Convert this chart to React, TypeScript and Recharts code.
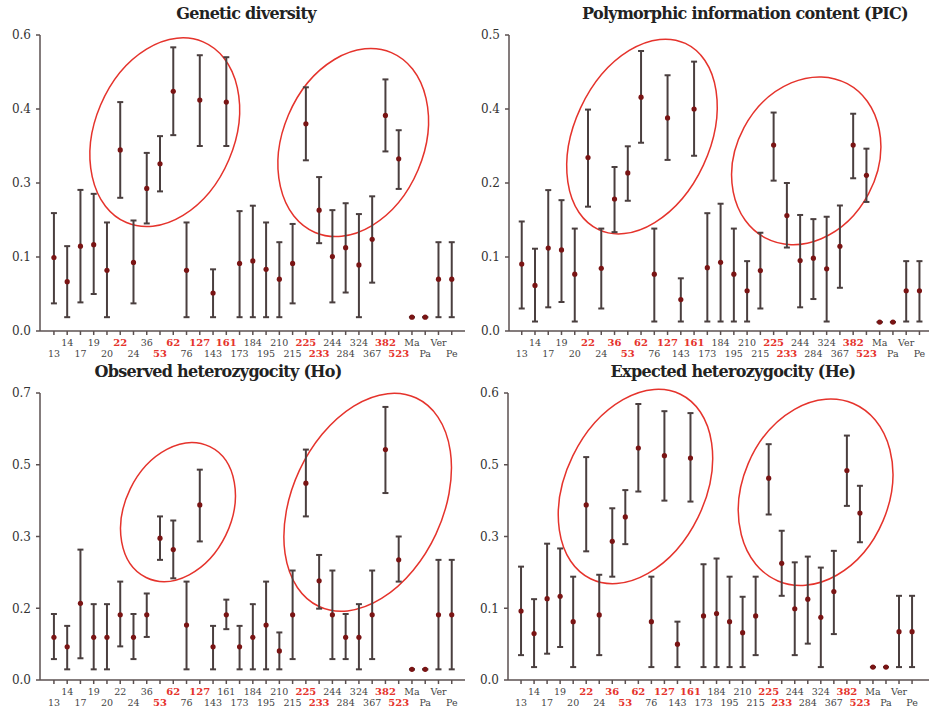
import React from 'react';
import { ScatterChart, Scatter, XAxis, YAxis, ErrorBar, ReferenceArea } from 'recharts';

const categories = [
  '13', '14', '17', '19', '20', '22', '24', '36', '53', '62', '76', '127', '143', '161', '173', '184',
  '195', '210', '215', '225', '233', '244', '284', '324', '367', '382', '523', 'Ma', 'Pa', 'Ver', 'Pe',
];

// Genetic diversity
const gdMean = [0.149, 0.1, 0.172, 0.175, 0.123, 0.367, 0.139, 0.289, 0.339, 0.486, 0.123, 0.468, 0.077, 0.464, 0.137, 0.142, 0.125, 0.105, 0.137, 0.42, 0.245, 0.151, 0.169, 0.134, 0.186, 0.437, 0.349, 0.028, 0.028, 0.105, 0.105];
const gdLow = [0.056, 0.028, 0.058, 0.075, 0.028, 0.27, 0.056, 0.218, 0.283, 0.397, 0.028, 0.375, 0.028, 0.375, 0.028, 0.028, 0.028, 0.028, 0.056, 0.346, 0.178, 0.058, 0.078, 0.028, 0.098, 0.364, 0.288, 0.028, 0.028, 0.028, 0.028];
const gdHigh = [0.239, 0.172, 0.286, 0.278, 0.22, 0.464, 0.224, 0.361, 0.395, 0.575, 0.22, 0.559, 0.125, 0.555, 0.243, 0.254, 0.22, 0.18, 0.217, 0.494, 0.312, 0.245, 0.259, 0.237, 0.273, 0.51, 0.407, 0.028, 0.028, 0.18, 0.18];

// Polymorphic information content
const picMean = [0.113, 0.077, 0.14, 0.137, 0.096, 0.293, 0.106, 0.223, 0.267, 0.395, 0.096, 0.36, 0.053, 0.375, 0.107, 0.116, 0.096, 0.068, 0.102, 0.314, 0.195, 0.119, 0.123, 0.105, 0.143, 0.314, 0.263, 0.015, 0.015, 0.068, 0.068];
const picLow = [0.038, 0.016, 0.04, 0.049, 0.016, 0.21, 0.038, 0.167, 0.22, 0.318, 0.016, 0.289, 0.016, 0.296, 0.016, 0.016, 0.016, 0.016, 0.038, 0.254, 0.141, 0.04, 0.054, 0.016, 0.073, 0.258, 0.218, 0.015, 0.015, 0.016, 0.016];
const picHigh = [0.185, 0.139, 0.238, 0.221, 0.173, 0.374, 0.173, 0.277, 0.312, 0.473, 0.173, 0.432, 0.089, 0.455, 0.199, 0.215, 0.173, 0.118, 0.166, 0.369, 0.25, 0.196, 0.189, 0.193, 0.212, 0.367, 0.308, 0.015, 0.015, 0.118, 0.118];

// Observed heterozygosity
const hoMean = [0.104, 0.081, 0.187, 0.104, 0.104, 0.159, 0.104, 0.159, 0.346, 0.318, 0.134, 0.427, 0.081, 0.159, 0.081, 0.104, 0.134, 0.071, 0.159, 0.48, 0.242, 0.159, 0.104, 0.104, 0.159, 0.562, 0.293, 0.026, 0.026, 0.159, 0.159];
const hoLow = [0.051, 0.026, 0.053, 0.026, 0.026, 0.082, 0.051, 0.105, 0.293, 0.248, 0.026, 0.338, 0.026, 0.124, 0.026, 0.026, 0.026, 0.026, 0.051, 0.399, 0.174, 0.051, 0.051, 0.026, 0.051, 0.456, 0.24, 0.026, 0.026, 0.026, 0.026];
const hoHigh = [0.161, 0.132, 0.318, 0.185, 0.185, 0.24, 0.161, 0.211, 0.399, 0.389, 0.24, 0.513, 0.132, 0.196, 0.132, 0.185, 0.24, 0.116, 0.267, 0.562, 0.305, 0.267, 0.161, 0.185, 0.267, 0.666, 0.35, 0.026, 0.026, 0.293, 0.293];

// Expected heterozygosity
const heMean = [0.144, 0.097, 0.17, 0.175, 0.122, 0.366, 0.136, 0.29, 0.341, 0.485, 0.122, 0.469, 0.075, 0.464, 0.134, 0.139, 0.122, 0.099, 0.134, 0.422, 0.244, 0.149, 0.169, 0.131, 0.185, 0.438, 0.349, 0.027, 0.027, 0.101, 0.101];
const heLow = [0.052, 0.027, 0.055, 0.069, 0.027, 0.269, 0.052, 0.216, 0.284, 0.394, 0.027, 0.375, 0.027, 0.373, 0.027, 0.027, 0.027, 0.027, 0.052, 0.346, 0.176, 0.052, 0.076, 0.027, 0.096, 0.364, 0.288, 0.027, 0.027, 0.027, 0.027];
const heHigh = [0.237, 0.169, 0.285, 0.275, 0.216, 0.466, 0.22, 0.359, 0.397, 0.577, 0.216, 0.562, 0.122, 0.558, 0.242, 0.254, 0.216, 0.174, 0.216, 0.493, 0.312, 0.246, 0.258, 0.235, 0.27, 0.511, 0.406, 0.027, 0.027, 0.176, 0.176];

// y ticks and the labels printed next to them
const gdTicks = [0, 0.15, 0.3, 0.45, 0.6];
const gdTickLabels = ['0.0', '0.1', '0.3', '0.4', '0.6'];
const picTicks = [0, 0.125, 0.25, 0.375, 0.5];
const picTickLabels = ['0.0', '0.1', '0.2', '0.4', '0.5'];
const hoTicks = [0, 0.175, 0.35, 0.525, 0.7];
const hoTickLabels = ['0.0', '0.2', '0.3', '0.5', '0.7'];
const heTicks = [0, 0.15, 0.3, 0.45, 0.6];
const heTickLabels = ['0.0', '0.1', '0.3', '0.5', '0.6'];

// highlighted (red) category labels
const gdRed = ['22', '53', '62', '127', '161', '225', '233', '382', '523'];
const picRed = ['22', '36', '53', '62', '127', '161', '225', '233', '382', '523'];
const hoRed = ['53', '62', '127', '225', '233', '382', '523'];
const heRed = ['22', '36', '53', '62', '127', '161', '225', '233', '382', '523'];

// ellipse annotations: box in data units, then tilted (degrees clockwise)
const gdRings = [
  { x1: 3.1, x2: 13.62, y1: 0.204, y2: 0.602, tilt: 23 },
  { x1: 17.26, x2: 27.88, y1: 0.184, y2: 0.58, tilt: 23 },
];
const picRings = [
  { x1: 3.96, x2: 14.18, y1: 0.155, y2: 0.502, tilt: 25 },
  { x1: 16.14, x2: 26.78, y1: 0.14, y2: 0.435, tilt: 28 },
];
const hoRings = [
  { x1: 5.35, x2: 13.36, y1: 0.232, y2: 0.587, tilt: 26 },
  { x1: 17.98, x2: 29.34, y1: 0.153, y2: 0.714, tilt: 25 },
];
const heRings = [
  { x1: 3.43, x2: 14.13, y1: 0.19, y2: 0.619, tilt: 26 },
  { x1: 16.98, x2: 28.22, y1: 0.191, y2: 0.594, tilt: 23 },
];

const AXIS = '#5b5050';
const BAR = '#4a3f3f';
const DOT = '#7a1414';
const RED = '#e5332c';

const CatTick = ({ x, y, payload, red }: any) => {
  const i = payload.value;
  const label = categories[i];
  if (label === undefined) return null;
  const isRed = red.includes(label);
  return (
    <text
      x={x}
      y={y + (i % 2 === 0 ? 22 : 11)}
      textAnchor="middle"
      fontSize={isRed ? 10 : 9.5}
      fontFamily="DejaVu Serif"
      fontWeight={isRed ? 'bold' : 'normal'}
      fill={isRed ? RED : '#444'}
    >
      {label}
    </text>
  );
};

const Ring = (props: any) => {
  const { x, y, width, height, tilt } = props;
  const cx = x + width / 2;
  const cy = y + height / 2;
  return (
    <ellipse
      cx={cx}
      cy={cy}
      rx={width / 2}
      ry={height / 2}
      transform={`rotate(${tilt} ${cx} ${cy})`}
      fill="none"
      stroke={RED}
      strokeWidth={1.5}
    />
  );
};

const Panel = ({ left, top, width, height, title, titleX, mean, low, high, ticks, tickLabels, red, rings, xDomain, yWidth, plotTop, xHeight }: any) => {
  const data = categories.map((c, i) => ({
    idx: i,
    mean: mean[i],
    err: [mean[i] - low[i], high[i] - mean[i]],
  }));
  const yMax = ticks[ticks.length - 1];
  return (
    <div style={{ position: 'absolute', left, top, width, height }}>
      <div
        style={{
          position: 'absolute',
          left: titleX - 250,
          width: 500,
          top: plotTop - 31,
          textAlign: 'center',
          fontFamily: 'DejaVu Serif',
          fontWeight: 'bold',
          fontSize: 16,
          letterSpacing: -0.7,
          color: '#222',
        }}
      >
        {title}
      </div>
      <ScatterChart width={width} height={height} margin={{ top: plotTop, right: 0, bottom: 0, left: 0 }}>
        <XAxis
          type="number"
          dataKey="idx"
          domain={xDomain}
          ticks={categories.map((c, i) => i)}
          interval={0}
          height={xHeight}
          stroke={AXIS}
          strokeWidth={1.5}
          tickSize={4}
          tickMargin={0}
          tick={<CatTick red={red} />}
          allowDataOverflow
        />
        <YAxis
          type="number"
          dataKey="mean"
          domain={[0, yMax]}
          ticks={ticks}
          interval={0}
          width={yWidth}
          stroke={AXIS}
          strokeWidth={1.5}
          tickSize={4}
          tickMargin={5}
          tickFormatter={(v: number, i: number) => tickLabels[i]}
          tick={{ fill: '#333', fontSize: 12, fontFamily: 'DejaVu Serif' }}
          allowDataOverflow
        />
        {rings.map((r: any, k: number) => (
          <ReferenceArea
            key={k}
            x1={r.x1}
            x2={r.x2}
            y1={r.y1}
            y2={r.y2}
            ifOverflow="visible"
            shape={(p: any) => <Ring {...p} tilt={r.tilt} />}
          />
        ))}
        <Scatter
          data={data}
          isAnimationActive={false}
          shape={(p: any) => <circle cx={p.cx} cy={p.cy} r={2.6} fill={DOT} />}
        >
          <ErrorBar dataKey="err" direction="y" width={3} stroke={BAR} strokeWidth={2} isAnimationActive={false} />
        </Scatter>
      </ScatterChart>
    </div>
  );
};

export default function App() {
  return (
    <div style={{ position: 'absolute', left: 0, top: 0, width: 929, height: 712, background: '#fff', overflow: 'hidden' }}>
      <Panel
        left={0} top={0} width={465} height={372}
        title="Genetic diversity" titleX={246}
        mean={gdMean} low={gdLow} high={gdHigh}
        ticks={gdTicks} tickLabels={gdTickLabels} red={gdRed} rings={gdRings}
        xDomain={[-1.05, 31]} yWidth={40} plotTop={35} xHeight={41}
      />
      <Panel
        left={465} top={0} width={464} height={372}
        title="Polymorphic information content (PIC)" titleX={280}
        mean={picMean} low={picLow} high={picHigh}
        ticks={picTicks} tickLabels={picTickLabels} red={picRed} rings={picRings}
        xDomain={[-0.96, 30.72]} yWidth={44} plotTop={35} xHeight={41}
      />
      <Panel
        left={0} top={350} width={465} height={362}
        title="Observed heterozygocity (Ho)" titleX={218}
        mean={hoMean} low={hoLow} high={hoHigh}
        ticks={hoTicks} tickLabels={hoTickLabels} red={hoRed} rings={hoRings}
        xDomain={[-1.05, 31]} yWidth={40} plotTop={43} xHeight={32}
      />
      <Panel
        left={465} top={350} width={464} height={362}
        title="Expected heterozygocity (He)" titleX={268}
        mean={heMean} low={heLow} high={heHigh}
        ticks={heTicks} tickLabels={heTickLabels} red={heRed} rings={heRings}
        xDomain={[-1.0, 31.3]} yWidth={43} plotTop={43} xHeight={32}
      />
    </div>
  );
}
